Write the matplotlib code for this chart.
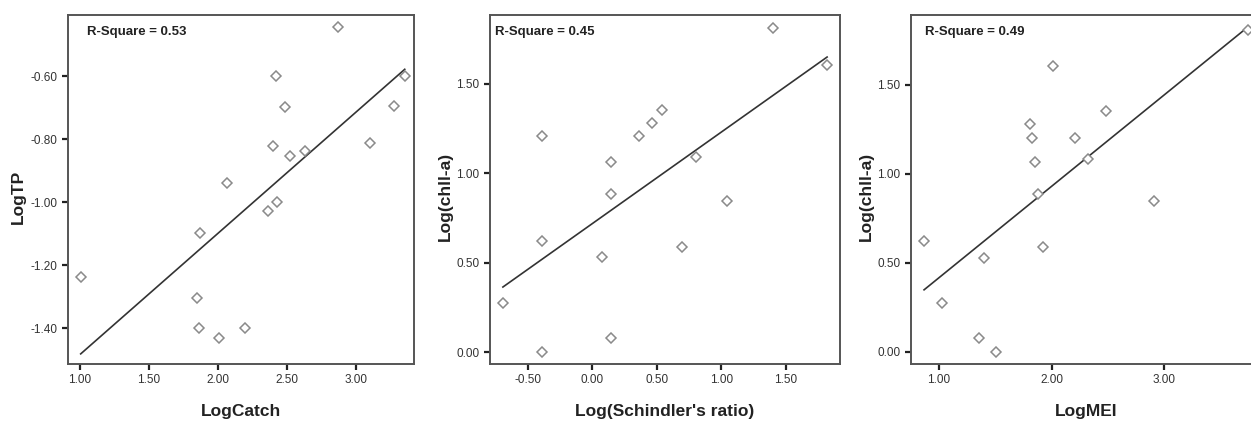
import numpy as np
import matplotlib
matplotlib.use("Agg")
import matplotlib.pyplot as plt

plt.rcParams['font.family'] = ['Liberation Sans', 'DejaVu Sans']

# panel 1: LogCatch vs LogTP
log_catch = [2.867, 2.418, 3.353, 2.488, 3.273, 2.401, 2.524, 2.628, 3.104,
             2.065, 2.428, 2.362, 1.870, 1.005, 1.845, 1.862, 2.196, 2.010]
log_tp = [-0.444, -0.600, -0.600, -0.699, -0.695, -0.823, -0.854, -0.839, -0.812,
          -0.939, -1.001, -1.029, -1.098, -1.237, -1.303, -1.400, -1.400, -1.431]

# panel 2: Schindler's ratio vs chl-a
log_schindler = [1.403, 1.822, 0.543, 0.465, 0.362, -0.390, 0.142, 0.804, 0.142,
                 1.044, -0.390, 0.078, 0.693, -0.693, 0.142, -0.390]
log_chla = [1.810, 1.607, 1.356, 1.280, 1.206, 1.206, 1.065, 1.089, 0.884,
            0.847, 0.622, 0.531, 0.587, 0.275, 0.077, 0.000]

# panel 3: MEI vs chl-a
log_mei = [3.747, 2.013, 2.487, 1.806, 1.827, 2.206, 1.850, 2.327, 1.880,
           2.908, 0.867, 1.397, 1.924, 1.030, 1.356, 1.504]
mei_chla = [1.807, 1.607, 1.355, 1.279, 1.204, 1.204, 1.067, 1.086, 0.886,
            0.849, 0.622, 0.527, 0.587, 0.275, 0.077, 0.000]

panels = [
    dict(x=log_catch, y=log_tp, xlabel='LogCatch', ylabel='LogTP', r2='R-Square = 0.53',
         xticks=[1.0, 1.5, 2.0, 2.5, 3.0], yticks=[-1.4, -1.2, -1.0, -0.8, -0.6],
         xlim=(0.913, 3.42), ylim=(-1.514, -0.406), pos=[68, 414], r2x=0.055, ylab=-42),
    dict(x=log_schindler, y=log_chla, xlabel="Log(Schindler's ratio)", ylabel='Log(chll-a)',
         r2='R-Square = 0.45', xticks=[-0.5, 0.0, 0.5, 1.0, 1.5], yticks=[0.0, 0.5, 1.0, 1.5],
         xlim=(-0.793, 1.922), ylim=(-0.067, 1.885), pos=[490, 840], r2x=0.014, ylab=-37),
    dict(x=log_mei, y=mei_chla, xlabel='LogMEI', ylabel='Log(chll-a)', r2='R-Square = 0.49',
         xticks=[1.0, 2.0, 3.0], yticks=[0.0, 0.5, 1.0, 1.5],
         xlim=(0.751, 3.86), ylim=(-0.069, 1.893), pos=[911, 1261], r2x=0.04, ylab=-37),
]

W, H = 1251, 421
fig = plt.figure(figsize=(W / 100, H / 100), dpi=100)
frame_col = '#555555'

for p in panels:
    l, r = p['pos']
    ax = fig.add_axes([l / W, (H - 364) / H, (r - l) / W, (364 - 15) / H])
    x = np.array(p['x'])
    y = np.array(p['y'])
    ax.plot(x, y, linestyle='none', marker='D', markersize=5.2, markerfacecolor='white',
            markeredgecolor='#8a8a8a', markeredgewidth=1.1, zorder=3)
    # least squares fit line over the data range
    k, b = np.polyfit(x, y, 1)
    xs = np.array([x.min(), x.max()])
    ax.plot(xs, k * xs + b, color='#333333', linewidth=1.2, zorder=2)

    ax.set_xlim(*p['xlim'])
    ax.set_ylim(*p['ylim'])
    ax.set_xticks(p['xticks'])
    ax.set_yticks(p['yticks'])
    ax.set_xticklabels(['%.2f' % v for v in p['xticks']])
    ax.set_yticklabels(['%.2f' % v for v in p['yticks']])
    ax.tick_params(direction='out', length=4.5, width=1.6, color='#222222',
                   labelsize=8.5, labelcolor='#333333', pad=3)
    for s in ax.spines.values():
        s.set_color(frame_col)
        s.set_linewidth(1.4)

    ax.set_xlabel(p['xlabel'], fontsize=12.5, fontweight='bold', color='#222222')
    ax.set_ylabel(p['ylabel'], fontsize=12.5, fontweight='bold', color='#222222')
    ax.xaxis.set_label_coords(0.5, -40 / 349)
    ax.yaxis.set_label_coords(p['ylab'] / (r - l), 0.48)
    ax.text(p['r2x'], 0.952, p['r2'], transform=ax.transAxes, fontsize=9.5,
            fontweight='bold', color='#222222', va='center', ha='left')

fig.savefig('out.png', dpi=100)
